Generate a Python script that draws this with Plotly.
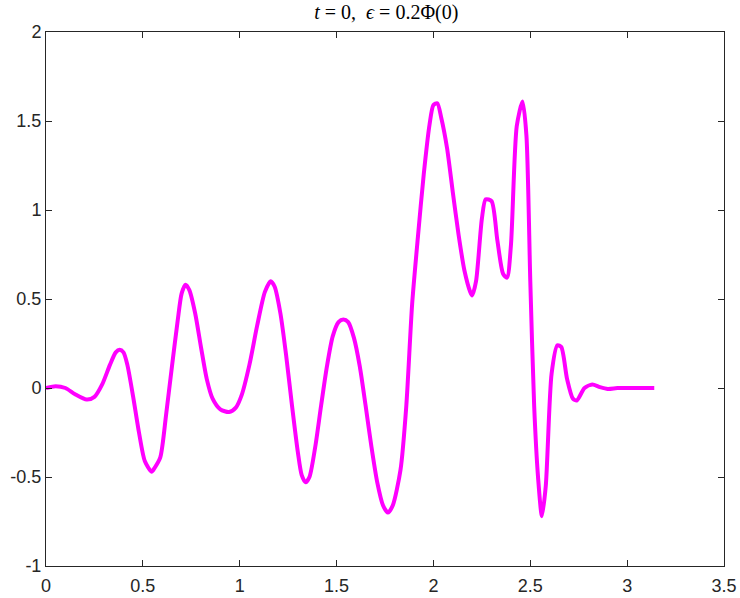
import plotly.graph_objects as go

# courbe (t = 0)
x_vals = [0.0, 0.05, 0.10, 0.15, 0.21, 0.25, 0.29, 0.33, 0.36, 0.38, 0.40,
          0.42, 0.45, 0.48, 0.51, 0.545, 0.56, 0.59, 0.62, 0.65, 0.68, 0.70,
          0.72, 0.74, 0.77, 0.80, 0.83, 0.86, 0.90, 0.945, 0.98, 1.01, 1.05,
          1.09, 1.13, 1.16, 1.18, 1.21, 1.24, 1.27, 1.30, 1.32, 1.34, 1.36,
          1.39, 1.42, 1.45, 1.48, 1.51, 1.535, 1.56, 1.59, 1.62, 1.65, 1.68,
          1.71, 1.74, 1.765, 1.79, 1.83, 1.86, 1.89, 1.92, 1.95, 1.98, 2.00,
          2.02, 2.04, 2.07, 2.10, 2.13, 2.16, 2.19, 2.20, 2.22, 2.25, 2.27,
          2.30, 2.33, 2.36, 2.38, 2.40, 2.43, 2.46, 2.48, 2.50, 2.52, 2.54,
          2.56, 2.58, 2.61, 2.64, 2.66, 2.69, 2.72, 2.74, 2.78, 2.82, 2.86,
          2.90, 2.95, 3.00, 3.05, 3.10, 3.14]
y_vals = [0.0, 0.01, 0.0, -0.035, -0.065, -0.05, 0.02, 0.13, 0.20, 0.215, 0.20,
          0.13, -0.05, -0.25, -0.41, -0.47, -0.45, -0.39, -0.15, 0.12, 0.38, 0.53,
          0.58, 0.55, 0.42, 0.23, 0.05, -0.06, -0.12, -0.135, -0.11, -0.04, 0.13,
          0.35, 0.54, 0.60, 0.57, 0.42, 0.18, -0.10, -0.36, -0.49, -0.53, -0.50,
          -0.33, -0.10, 0.12, 0.29, 0.37, 0.385, 0.37, 0.28, 0.12, -0.10, -0.33,
          -0.53, -0.66, -0.70, -0.66, -0.46, -0.10, 0.47, 0.85, 1.20, 1.48, 1.59,
          1.60, 1.52, 1.35, 1.10, 0.86, 0.66, 0.54, 0.52, 0.60, 0.95, 1.06,
          1.05, 0.83, 0.64, 0.62, 0.80, 1.47, 1.61, 1.42, 0.60, -0.10, -0.50,
          -0.72, -0.55, 0.08, 0.24, 0.23, 0.05, -0.06, -0.07, 0.0, 0.02, 0.005,
          -0.005, 0.0, 0.0, 0.0, 0.0, 0.0]

x_ticks = [0, 0.5, 1, 1.5, 2, 2.5, 3, 3.5]
x_labels = ["0", "0.5", "1", "1.5", "2", "2.5", "3", "3.5"]
y_ticks = [-1, -0.5, 0, 0.5, 1, 1.5, 2]
y_labels = ["-1", "-0.5", "0", "0.5", "1", "1.5", "2"]

fig = go.Figure()
fig.add_trace(go.Scatter(x=x_vals, y=y_vals, mode="lines",
                         line=dict(color="#ff00ff", width=4, shape="spline", smoothing=0.7)))

axe = dict(showgrid=False, zeroline=False, showline=True, automargin=False,
           linecolor="#262626", linewidth=1, mirror="ticks", ticks="inside",
           ticklen=6, tickcolor="#262626",
           tickfont=dict(family="Liberation Sans, Arial", size=18, color="#262626"))

fig.update_xaxes(**axe)
fig.update_yaxes(**axe)
fig.update_xaxes(range=[0, 3.5], tickvals=x_ticks, ticktext=x_labels, ticklabelstandoff=3)
fig.update_yaxes(range=[-1, 2], tickvals=y_ticks, ticktext=y_labels)

fig.update_layout(
    width=740, height=598,
    margin=dict(l=46, r=16, t=32, b=32),
    plot_bgcolor="white", paper_bgcolor="white",
    showlegend=False,
    title=dict(text="<i>t</i> = 0,  <i>ϵ</i> = 0.2Φ(0)",
               x=0.522, xanchor="center", y=0.98, yanchor="middle",
               font=dict(family="Liberation Serif, DejaVu Serif", size=20, color="#000000")),
)

# pas de marge autour du graphe dans la page
fig.write_html("out.html", config={"displayModeBar": False},
               post_script="document.body.style.margin='0';")
